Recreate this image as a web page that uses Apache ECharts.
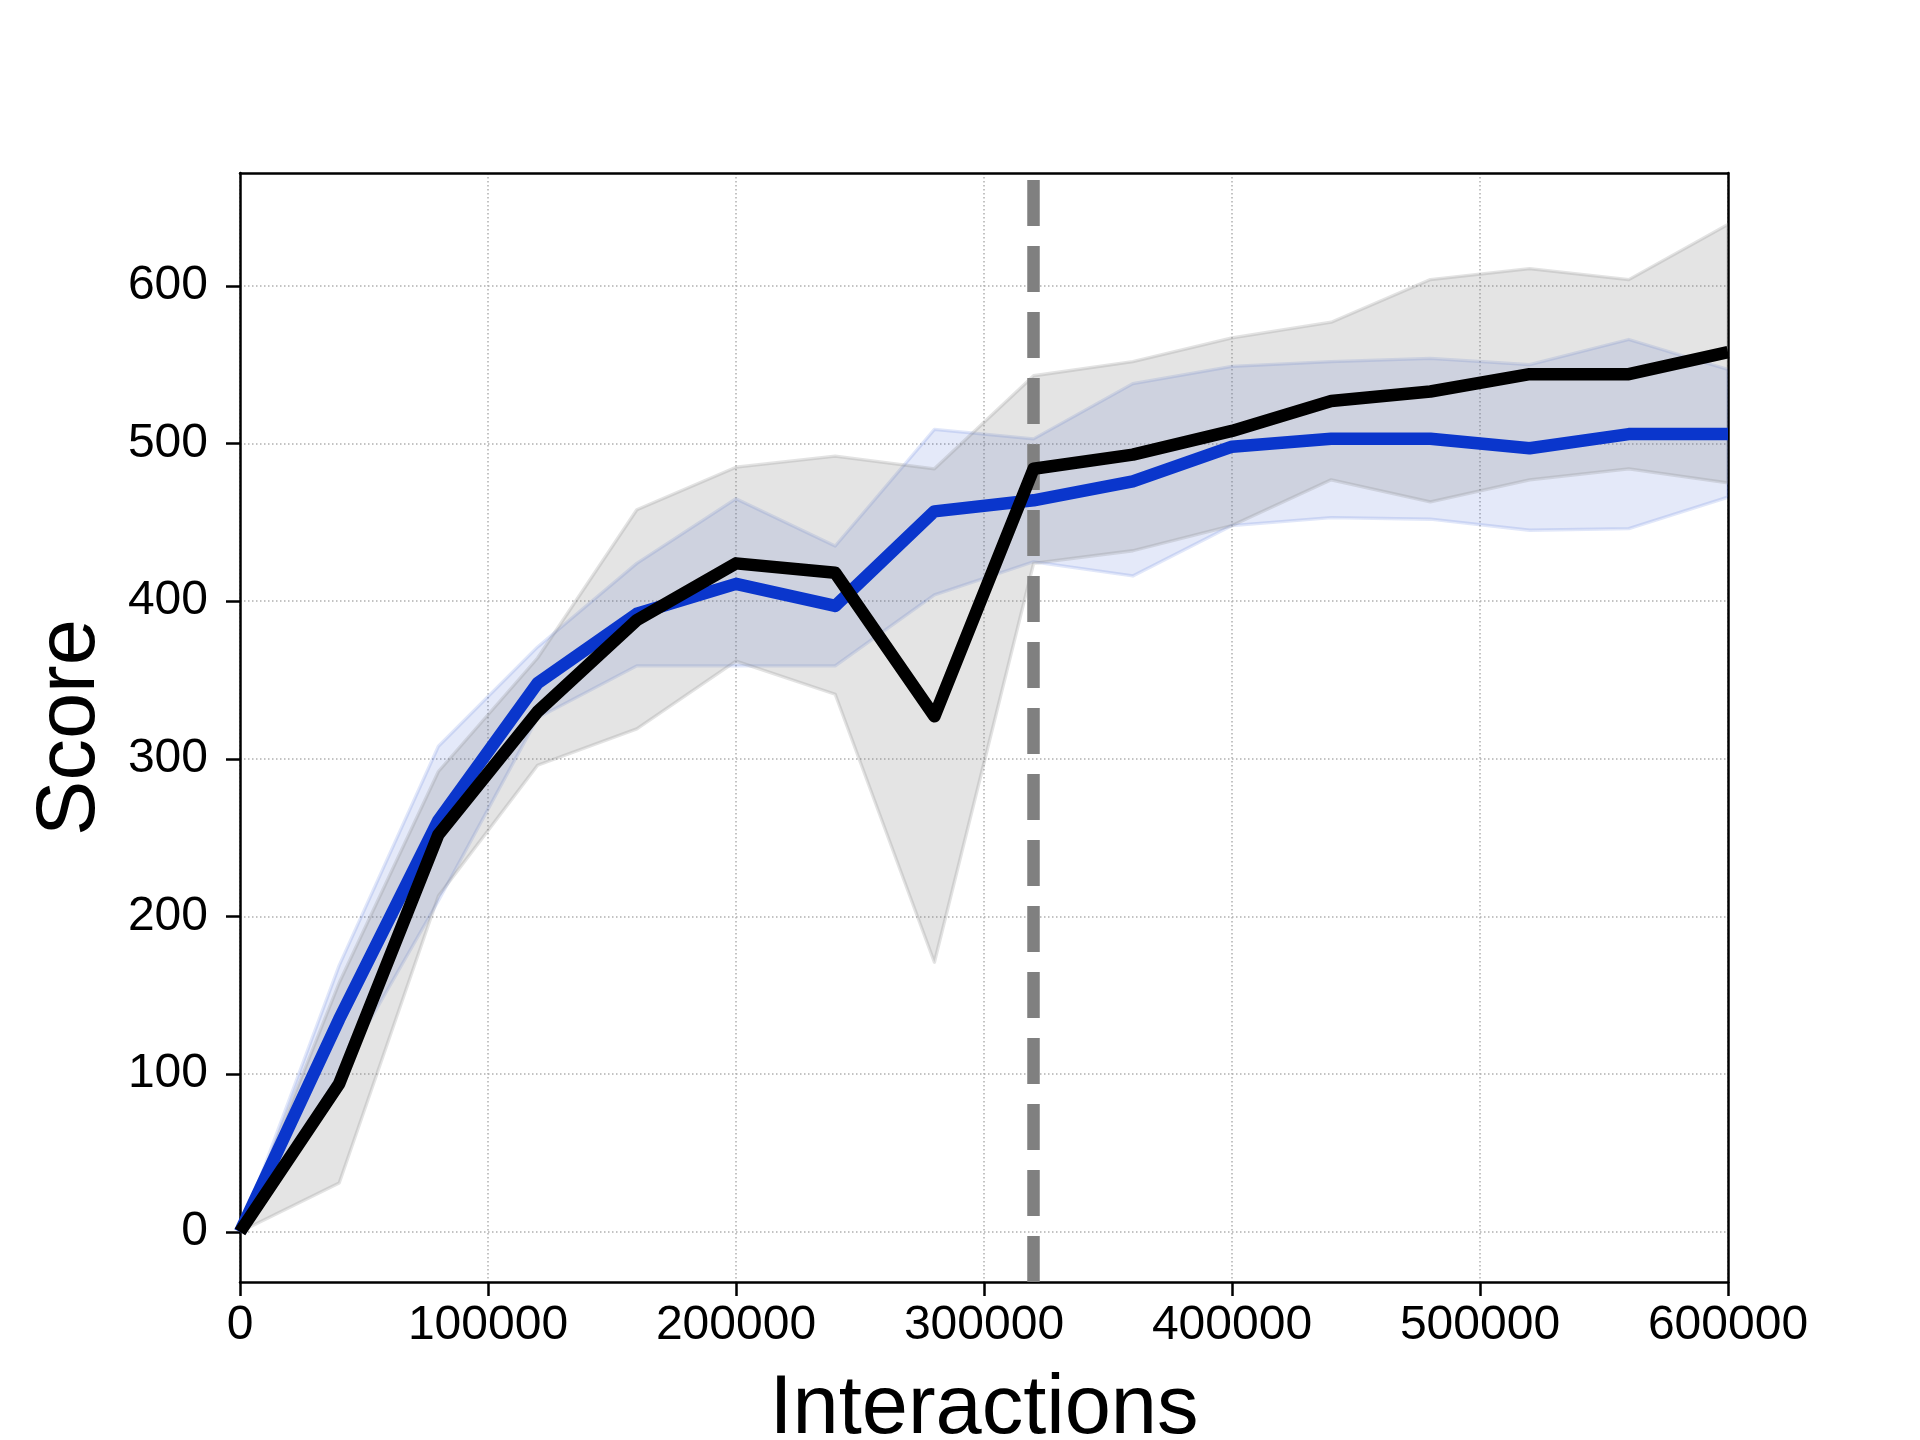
<!DOCTYPE html>
<html>
<head>
<meta charset="utf-8">
<script src="https://cdn.jsdelivr.net/npm/echarts@6/dist/echarts.min.js"></script>
<style>
html,body{margin:0;padding:0;background:#fff;}
#chart{width:1920px;height:1440px;}
</style>
</head>
<body>
<div id="chart"></div>
<script>
// ---- data ----
const steps = [0, 40000, 80000, 120000, 160000, 200000, 240000, 280000, 320000, 360000, 400000, 440000, 480000, 520000, 560000, 600000];
const blackMean = [0, 94, 252, 330, 388, 424, 418, 327, 484, 493, 508, 527, 533, 544, 544, 558];
const blackLo   = [0, 31, 213, 296, 319, 362, 341, 171, 424, 432, 448, 477, 463, 477, 484, 475];
const blackHi   = [0, 158, 292, 364, 458, 485, 492, 484, 543, 552, 567, 577, 604, 611, 604, 639];
const blueMean  = [0, 135, 261, 348, 392, 411, 397, 457, 464, 476, 498, 503, 503, 497, 506, 506];
const blueLo    = [0, 100, 210, 326, 359, 359, 359, 404, 425, 416, 448, 453, 452, 445, 446, 466];
const blueHi    = [0, 169, 308, 371, 424, 465, 435, 509, 503, 538, 549, 552, 554, 550, 566, 547];
const vlineX = [320000];
const xTicks = [0, 100000, 200000, 300000, 400000, 500000, 600000];
const yTicks = [0, 100, 200, 300, 400, 500, 600];
const xName = 'Interactions';
const yName = 'Score';

const pairs = (ys) => steps.map((x, i) => [x, ys[i]]);
const bandRows = (lo, hi) => steps.map((x, i) => [x, lo[i], hi[i]]);

const FONT = "'Liberation Sans', Arial, Helvetica, sans-serif";
const grayEdge = 'rgba(128,128,128,0.22)';
const grayFill = 'rgba(128,128,128,0.21)';
const blueEdge = 'rgba(10,54,204,0.12)';
const blueFill = 'rgba(10,54,204,0.11)';
const X_MIN = 0, X_MAX = 600000, Y_MIN = -31.8, Y_MAX = 671.6;

function bandRenderer(fill, edge) {
  return function (params, api) {
    if (params.dataIndex !== 0) return null;
    const lo = [], hi = [];
    for (let i = 0; i < steps.length; i++) {
      const x = api.value(0, i), l = api.value(1, i), h = api.value(2, i);
      lo.push(api.coord([x, l]));
      hi.push(api.coord([x, h]));
    }
    const poly = lo.concat(hi.slice().reverse());
    return {
      type: 'polygon', shape: {points: poly},
      style: {fill: fill, stroke: edge, lineWidth: 3.3, lineJoin: 'round'}, silent: true
    };
  };
}

const chart = echarts.init(document.getElementById('chart'), null, {renderer: 'canvas'});
const gridStyle = {color: '#b0b0b0', width: 1.5, type: [1.5, 2.5]};
const spine = {show: true, onZero: false, lineStyle: {color: '#000', width: 2.5}};

chart.setOption({
  animation: false,
  backgroundColor: '#ffffff',
  textStyle: {fontFamily: FONT},
  grid: {left: 240, right: 192, top: 173, bottom: 158, containLabel: false, outerBoundsMode: 'none',
         show: false},
  xAxis: [{
    type: 'value', min: X_MIN, max: X_MAX, interval: 100000,
    name: xName, nameLocation: 'middle', nameGap: 87,
    nameTextStyle: {fontSize: 83, color: '#000', fontFamily: FONT},
    axisLine: spine,
    axisTick: {show: true, length: 14, lineStyle: {color: '#000', width: 2.5}, customValues: xTicks},
    axisLabel: {fontSize: 48, color: '#000', margin: 20, fontFamily: FONT, customValues: xTicks,
      formatter: (v) => String(v)},
    splitLine: {show: true, lineStyle: gridStyle}
  }, {
    type: 'value', position: 'top', min: X_MIN, max: X_MAX, interval: 100000,
    axisLine: spine, axisTick: {show: false}, axisLabel: {show: false}, splitLine: {show: false}
  }],
  yAxis: [{
    type: 'value', min: Y_MIN, max: Y_MAX,
    name: yName, nameLocation: 'middle', nameGap: 127, nameRotate: 90,
    nameTextStyle: {fontSize: 83, color: '#000', fontFamily: FONT},
    axisLine: spine,
    axisTick: {show: true, length: 14, lineStyle: {color: '#000', width: 2.5}, customValues: yTicks},
    axisLabel: {fontSize: 48, color: '#000', margin: 32, fontFamily: FONT, customValues: yTicks,
      formatter: (v) => String(v)},
    splitLine: {show: true, lineStyle: gridStyle}
  }, {
    type: 'value', position: 'right', min: Y_MIN, max: Y_MAX,
    axisLine: spine, axisTick: {show: false}, axisLabel: {show: false}, splitLine: {show: false}
  }],
  series: [
    {type: 'custom', name: 'blueBand', data: bandRows(blueLo, blueHi), z: 2, silent: true, clip: true,
     encode: {x: 0, y: [1, 2]}, renderItem: bandRenderer(blueFill, blueEdge)},
    {type: 'custom', name: 'grayBand', data: bandRows(blackLo, blackHi), z: 2, silent: true, clip: true,
     encode: {x: 0, y: [1, 2]}, renderItem: bandRenderer(grayFill, grayEdge)},
    {type: 'line', name: 'vline', data: [], z: 3, silent: true,
     markLine: {silent: true, symbol: ['none', 'none'], label: {show: false},
       lineStyle: {color: '#808080', width: 12.5, type: [46, 20], opacity: 1},
       emphasis: {disabled: true},
       data: vlineX.map(v => ({xAxis: v}))}},
    {type: 'line', name: 'blue', data: pairs(blueMean), showSymbol: false, symbol: 'none', z: 4, clip: true,
     lineStyle: {color: '#0a36cc', width: 12.5, join: 'round', cap: 'butt'}},
    {type: 'line', name: 'black', data: pairs(blackMean), showSymbol: false, symbol: 'none', z: 5, clip: true,
     lineStyle: {color: '#000000', width: 12.5, join: 'round', cap: 'butt'}}
  ]
});
</script>
</body>
</html>
